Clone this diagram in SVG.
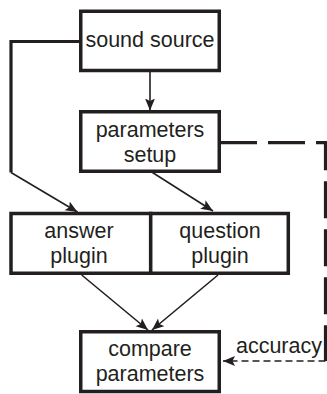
<svg xmlns="http://www.w3.org/2000/svg" width="327" height="394" viewBox="0 0 327 394">
<defs>
<style>
.box{fill:#fff;stroke:#231f20;stroke-width:3.5}
.t{font-family:"Liberation Sans",Arial,sans-serif;font-size:21.5px;fill:#231f20;text-anchor:middle}
.thin{fill:none;stroke:#231f20;stroke-width:1.6}
.thick{fill:none;stroke:#231f20;stroke-width:3.2}
</style>
<marker id="ah" markerUnits="userSpaceOnUse" markerWidth="14" markerHeight="12" refX="12" refY="5" orient="auto">
<path d="M0,0 L12,5 L0,10 L2.5,5 Z" fill="#231f20"/>
</marker>
</defs>
<g id="connectors">
<path class="thick" d="M80,41.5 H11 V172.5"/>
<path class="thin" d="M11,172.5 L77.5,212" marker-end="url(#ah)"/>
<path class="thin" d="M150,70 V110.5" marker-end="url(#ah)"/>
<path class="thin" d="M151.7,172 L213,211" marker-end="url(#ah)"/>
<path class="thin" d="M81.7,275 L148,330" marker-end="url(#ah)"/>
<path class="thin" d="M218,275 L152,330" marker-end="url(#ah)"/>
<path class="thick" d="M220,142.7 H325.5 V361" stroke-dasharray="37 11"/>
<path class="thin" d="M325.5,361 H223" stroke-dasharray="7 4" marker-end="url(#ah)"/>
</g>
<g id="sound-source">
<rect class="box" x="80.75" y="11.25" width="138.5" height="59.25"/>
<text class="t" x="150" y="47">sound source</text>
</g>
<g id="parameters-setup">
<rect class="box" x="80.75" y="111.75" width="138.5" height="59.5"/>
<text class="t" x="150" y="137">parameters</text>
<text class="t" x="150" y="162">setup</text>
</g>
<g id="answer-plugin">
<rect class="box" x="11" y="213.5" width="139.7" height="59.75"/>
<text class="t" x="79" y="238">answer</text>
<text class="t" x="79" y="263">plugin</text>
</g>
<g id="question-plugin">
<rect class="box" x="150.7" y="213.5" width="137.6" height="59.75"/>
<text class="t" x="220" y="238">question</text>
<text class="t" x="220" y="263">plugin</text>
</g>
<g id="compare-parameters">
<rect class="box" x="80.75" y="331.75" width="138.5" height="59.75"/>
<text class="t" x="150" y="356">compare</text>
<text class="t" x="150" y="380.5">parameters</text>
</g>
<text class="t" x="322" y="353" style="text-anchor:end">accuracy</text>
</svg>
